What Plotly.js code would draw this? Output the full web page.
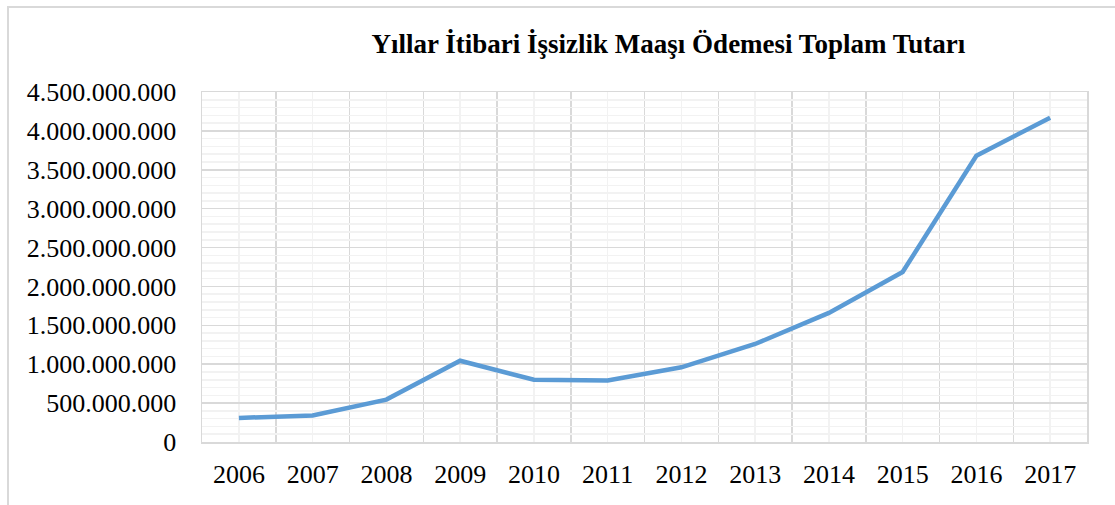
<!DOCTYPE html>
<html>
<head>
<meta charset="utf-8">
<script src="https://cdn.plot.ly/plotly-3.0.1.min.js"></script>
<style>
html,body{margin:0;padding:0;background:#fff;}
#wrap{position:relative;width:1115px;height:505px;}
#chart{position:absolute;left:0;top:0;width:1115px;height:505px;}
#frame{position:absolute;left:7px;top:6px;width:1108px;height:499px;border-top:2px solid #d9d9d9;border-left:2px solid #d9d9d9;box-sizing:border-box;pointer-events:none;}
</style>
</head>
<body>
<div id="wrap"><div id="chart"></div><div id="frame"></div></div>
<script>
var years = [2006, 2007, 2008, 2009, 2010, 2011, 2012, 2013, 2014, 2015, 2016, 2017];
var amounts = [310000000, 340000000, 545000000, 1045000000, 800000000, 790000000, 960000000, 1260000000, 1660000000, 2185000000, 3680000000, 4170000000];
var yTicks = [0, 500000000, 1000000000, 1500000000, 2000000000, 2500000000, 3000000000, 3500000000, 4000000000, 4500000000];
var titleText = 'Yıllar İtibari İşsizlik Maaşı Ödemesi Toplam Tutarı';

var font = 'Liberation Serif, Times New Roman, serif';

Plotly.newPlot('chart', [{
  x: years,
  y: amounts,
  type: 'scatter',
  mode: 'lines',
  line: {color: '#5b9bd5', width: 4.5},
  hoverinfo: 'none'
}], {
  width: 1115,
  height: 505,
  margin: {l: 202, r: 28, t: 92, b: 62.5, pad: 0},
  paper_bgcolor: '#fff',
  plot_bgcolor: '#fff',
  separators: ',.',
  showlegend: false,
  title: {
    text: '<b>' + titleText + '</b>',
    font: {family: font, size: 27, color: '#000'},
    xref: 'paper', x: 0.527, xanchor: 'center',
    yref: 'container', y: 0.913, yanchor: 'middle'
  },
  xaxis: {
    type: 'linear',
    range: [2005.5, 2017.5],
    tickvals: years,
    ticktext: years.map(String),
    showgrid: true,
    gridcolor: '#f2f2f2',
    gridwidth: 1.5,
    minor: {tick0: 2005.5, dtick: 1, showgrid: true, gridcolor: '#d9d9d9', gridwidth: 1.5, ticks: ''},
    showline: true, linecolor: '#d9d9d9', linewidth: 1.5, mirror: true,
    zeroline: false,
    ticks: '',
    ticklabelstandoff: 8,
    tickfont: {family: font, size: 26, color: '#000'}
  },
  yaxis: {
    range: [0, 4500000000],
    tickvals: yTicks,
    tickformat: ',d',
    showgrid: true,
    gridcolor: '#d9d9d9',
    gridwidth: 1.5,
    minor: {dtick: 100000000, showgrid: true, gridcolor: '#f2f2f2', gridwidth: 1.5, ticks: ''},
    showline: true, linecolor: '#d9d9d9', linewidth: 1.5, mirror: true,
    zeroline: false,
    ticks: '',
    ticklabelstandoff: 19,
    tickfont: {family: font, size: 26, color: '#000'}
  }
}, {staticPlot: true});
</script>
</body>
</html>
